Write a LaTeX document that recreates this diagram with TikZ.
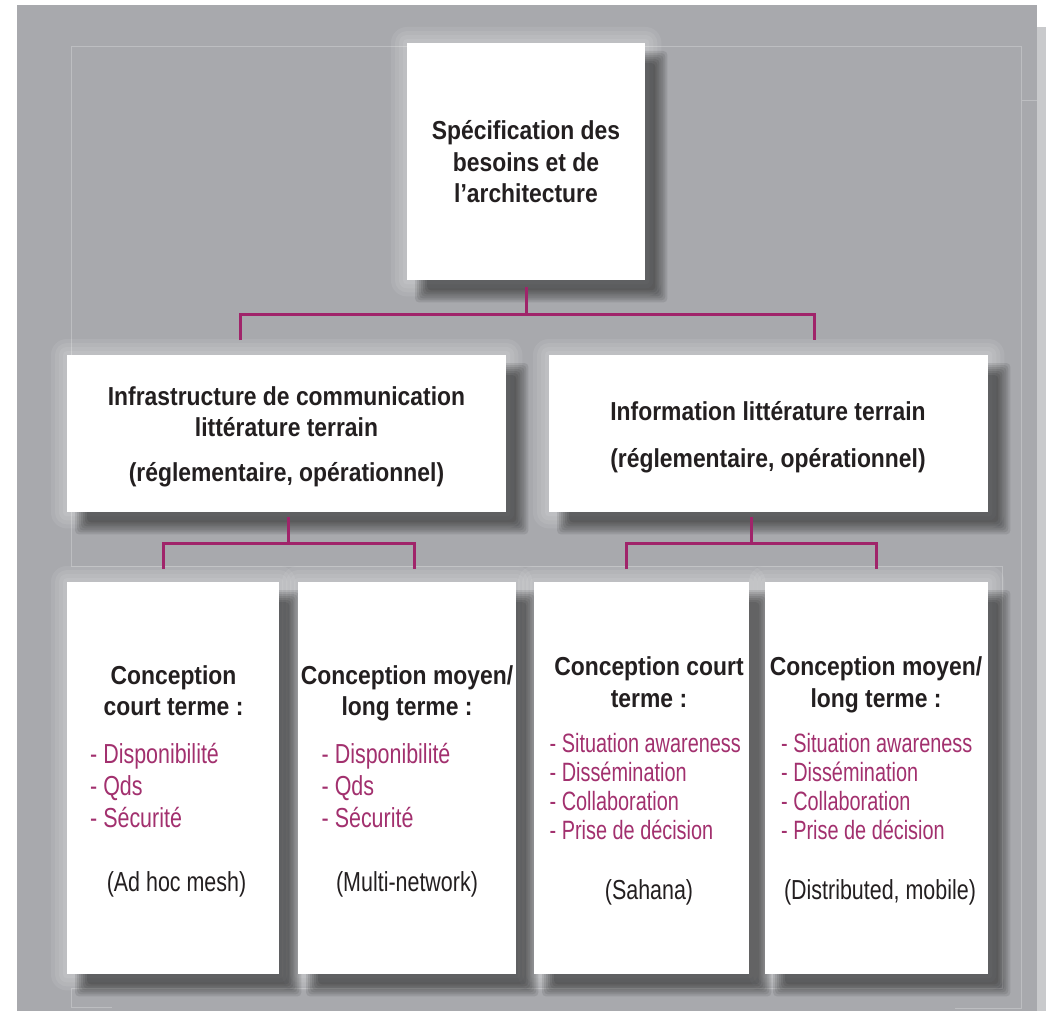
\documentclass[tikz,border=0pt]{standalone}
\usepackage{fontspec}
\setmainfont{Liberation Sans}
\newfontfamily\hbold{Liberation Sans}[FakeStretch=0.88]
\newfontfamily\hreg{Liberation Sans}[FakeStretch=0.78]
\newfontfamily\hregs{Liberation Sans}[FakeStretch=0.75]
\usetikzlibrary{calc}
\definecolor{bggray}{HTML}{A8A9AD}
\definecolor{edgegray}{HTML}{C9CACC}
\definecolor{frameline}{HTML}{BDBEC1}
\definecolor{conncol}{HTML}{A0246A}
\definecolor{magtext}{HTML}{A2306E}
\definecolor{ink}{HTML}{231F20}
\begin{document}
\begin{tikzpicture}[x=1pt,y=-1pt,
  panel/.style={draw=none, fill=none, inner sep=0pt, anchor=north west},
  conn/.style={draw=conncol, line width=3pt},
  ttl/.style={anchor=base, inner sep=0pt, text=ink, font=\hbold\bfseries\fontsize{26}{31}\selectfont},
  item/.style={anchor=base west, inner sep=0pt, text=magtext, font=\hreg\fontsize{27.5}{31}\selectfont},
  items/.style={anchor=base west, inner sep=0pt, text=magtext, font=\hregs\fontsize{26.5}{29}\selectfont},
  paren/.style={anchor=base, inner sep=0pt, text=ink, font=\hreg\fontsize{27.5}{31}\selectfont},
  fline/.style={draw=frameline, line width=0.8pt}]
\useasboundingbox (0,0) rectangle (1046,1011);

% background
\fill[white] (0,0) rectangle (1046,1011);
\fill[edgegray] (1037,27) rectangle (1046,1011);
\fill[bggray] (17,5) rectangle (1037,1011);
\draw[fline] (71,340) -- (71,46) -- (1021,46) -- (1021,1008) -- (955,1008);
\draw[fline] (1021,100) -- (1037,100);
\draw[fline] (71,340) -- (71,566) -- (1002,566) -- (1002,988) -- (71,988) -- (71,1007) -- (112,1007);

% box geometry (named nodes)
\node[panel, minimum width=238pt, minimum height=237pt] (top) at (407,43) {};
\node[panel, minimum width=439pt, minimum height=157pt] (midL) at (67,355) {};
\node[panel, minimum width=439pt, minimum height=157pt] (midR) at (549,355) {};
\node[panel, minimum width=212pt, minimum height=392pt] (b1) at (67,582) {};
\node[panel, minimum width=218pt, minimum height=392pt] (b2) at (298,582) {};
\node[panel, minimum width=215pt, minimum height=392pt] (b3) at (534,582) {};
\node[panel, minimum width=223pt, minimum height=392pt] (b4) at (765,582) {};

% light halo round the boxes
\foreach \n in {top,midL,midR,b1,b2,b3,b4}{
  \foreach \r in {16,12,8,4}{
    \fill[white, opacity=0.08, rounded corners=\r pt]
      ($(\n.north west)+(-\r,-\r)$) rectangle ($(\n.south east)+(\r,\r)$);
  }
}
% soft dark shadows (offset down-right)
\foreach \n in {top,midL,midR,b1,b2,b3,b4}{
  \foreach \r in {7,5,3,1,-1,-3,-5}{
    \fill[black, opacity=0.09, rounded corners=4pt]
      ($(\n.north west)+(15-\r,15-\r)$) rectangle ($(\n.south east)+(15+\r,15+\r)$);
  }
}
% white panels
\foreach \n in {top,midL,midR,b1,b2,b3,b4}{
  \fill[white] (\n.north west) rectangle (\n.south east);
}

% connectors
\coordinate (jT) at ($(top.south)+(0,34)$);
\draw[conn] ($(top.south)+(0,7)$) -- (jT);
\draw[conn] ($(midL.north)+(-46,-15)$) |- (jT) -| ($(midR.north)+(45.5,-15)$);

\coordinate (jL) at ($(midL.south)+(2,31)$);
\draw[conn] ($(midL.south)+(2,5)$) -- (jL);
\draw[conn] ($(b1.north)+(-9.5,-13)$) |- (jL) -| ($(b2.north)+(7,-13)$);

\coordinate (jR) at ($(midR.south)+(-17.5,31)$);
\draw[conn] ($(midR.south)+(-17.5,5)$) -- (jR);
\draw[conn] ($(b3.north)+(-15.5,-13)$) |- (jR) -| ($(b4.north)+(0,-13)$);

% top box text
\node[ttl] (t1) at (526,140) {Spécification des};
\node[ttl] (t2) at (526,172) {besoins et de};
\node[ttl] (t3) at (526,203) {l’architecture};

% middle boxes text
\node[ttl] (l1) at (286.5,405) {Infrastructure de communication};
\node[ttl] (l2) at (286.5,436) {littérature terrain};
\node[ttl] (l3) at (286.5,481) {(réglementaire, opérationnel)};
\node[ttl] (r1) at (768,420) {Information littérature terrain};
\node[ttl] (r2) at (768,467) {(réglementaire, opérationnel)};

% bottom box 1
\node[ttl] (a1) at (173.5,684) {Conception};
\node[ttl] (a2) at (173.5,715) {court terme :};
\node[item] (a3) at (90,763) {- Disponibilité};
\node[item] (a4) at (90,795) {- Qds};
\node[item] (a5) at (90,827) {- Sécurité};
\node[paren] (a6) at (176.5,891) {(Ad hoc mesh)};

% bottom box 2
\node[ttl] (c1) at (407,684) {Conception moyen/};
\node[ttl] (c2) at (407,715) {long terme :};
\node[item] (c3) at (321.5,763) {- Disponibilité};
\node[item] (c4) at (321.5,795) {- Qds};
\node[item] (c5) at (321.5,827) {- Sécurité};
\node[paren] (c6) at (407,891) {(Multi-network)};

% bottom box 3
\node[ttl] (d1) at (649,675) {Conception court};
\node[ttl] (d2) at (649,707) {terme :};
\node[items] (d3) at (549.5,752) {- Situation awareness};
\node[items] (d4) at (549.5,781) {- Dissémination};
\node[items] (d5) at (549.5,810) {- Collaboration};
\node[items] (d6) at (549.5,839) {- Prise de décision};
\node[paren] (d7) at (649,899) {(Sahana)};

% bottom box 4
\node[ttl] (e1) at (876,675) {Conception moyen/};
\node[ttl] (e2) at (876,707) {long terme :};
\node[items] (e3) at (781,752) {- Situation awareness};
\node[items] (e4) at (781,781) {- Dissémination};
\node[items] (e5) at (781,810) {- Collaboration};
\node[items] (e6) at (781,839) {- Prise de décision};
\node[paren] (e7) at (880,899) {(Distributed, mobile)};
\end{tikzpicture}
\end{document}
